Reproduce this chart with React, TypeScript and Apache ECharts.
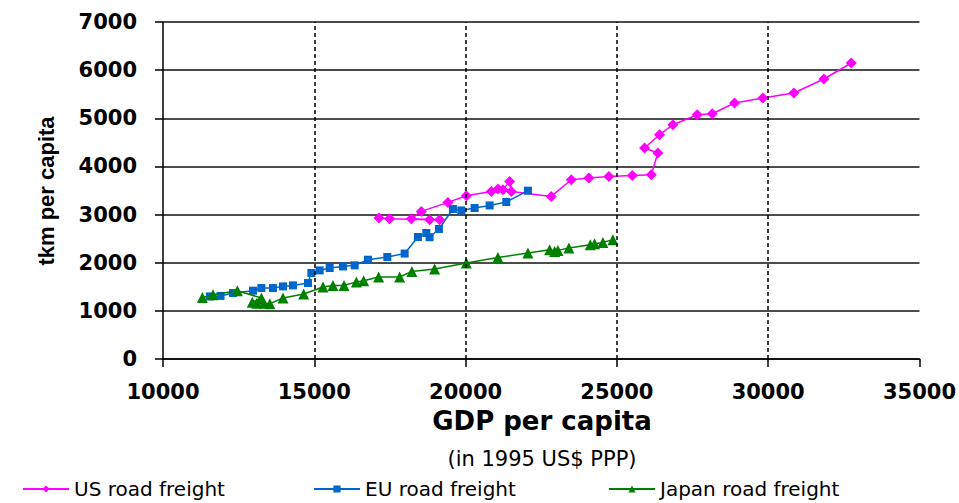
import React, { useEffect, useRef } from "react";
import * as echarts from "echarts";

// GDP per capita (1995 US$ PPP) vs road freight tkm per capita
const usGdp = [17137, 17490, 18811, 19141, 18207, 18537, 19417, 20024, 20850, 21069, 21234, 21455, 21511, 22832, 23493, 24075, 24736, 25509, 26137, 26355, 25915, 26411, 26851, 27657, 28152, 28889, 29824, 30849, 31840, 32745];
const usTkm = [2929, 2914, 2893, 2893, 2914, 3066, 3253, 3392, 3481, 3531, 3516, 3689, 3481, 3377, 3724, 3759, 3790, 3813, 3828, 4279, 4383, 4659, 4866, 5074, 5095, 5317, 5421, 5525, 5816, 6148];

const euGdp = [11550, 11900, 12313, 12974, 13251, 13634, 13965, 14295, 14791, 14903, 15177, 15508, 15947, 16334, 16773, 17414, 17986, 18425, 18702, 18811, 19119, 19582, 19859, 20299, 20795, 21346, 22060];
const euTkm = [1300, 1310, 1371, 1419, 1474, 1474, 1508, 1529, 1578, 1786, 1840, 1890, 1923, 1945, 2062, 2118, 2190, 2534, 2617, 2530, 2700, 3115, 3086, 3136, 3190, 3261, 3496];

const jpGdp = [11302, 11652, 12458, 13251, 12950, 13100, 13330, 13530, 13965, 14649, 15287, 15617, 15981, 16390, 16631, 17127, 17821, 18227, 18977, 20024, 21069, 22060, 22777, 22942, 23052, 23414, 24121, 24263, 24538, 24868];
const jpTkm = [1279, 1336, 1419, 1267, 1180, 1160, 1160, 1150, 1267, 1350, 1495, 1529, 1529, 1599, 1626, 1703, 1703, 1820, 1869, 1994, 2110, 2201, 2270, 2235, 2256, 2305, 2374, 2395, 2422, 2478];

const seriesNames = ["US road freight", "EU road freight", "Japan road freight"];
const verticalGridX = [15000, 20000, 25000, 30000];

const xMin = 10000, xMax = 35000, xStep = 5000;
const yMin = 0, yMax = 7000, yStep = 1000;

const xTitle = "GDP per capita";
const xSubtitle = "(in 1995 US$ PPP)";
const yTitle = "tkm per capita";

const zip = (a: number[], b: number[]) => a.map((v, i) => [v, b[i]]);

export default function App() {
  const ref = useRef<HTMLDivElement>(null);
  useEffect(() => {
    document.body.style.margin = "0";
    const chart = echarts.init(ref.current!, null, { renderer: "svg" });
    const tickFont = { fontFamily: "DejaVu Sans", fontWeight: "bold" as const, fontSize: 21, color: "#000" };
    const legendText = { fontFamily: "DejaVu Sans", fontSize: 20, color: "#000" };
    const mkLegend = (name: string, left: number) => ({
      data: [name],
      left,
      top: 474,
      itemWidth: 46,
      itemHeight: 9,
      itemGap: 0,
      textStyle: legendText,
      selectedMode: false,
    });
    chart.setOption({
      animation: false,
      backgroundColor: "#fff",
      grid: { left: 163, right: 36, top: 22, bottom: 144, containLabel: false },
      xAxis: {
        type: "value",
        min: xMin,
        max: xMax,
        interval: xStep,
        axisLine: { show: true, lineStyle: { color: "#000", width: 1.5 } },
        axisTick: { show: true, length: 8, lineStyle: { color: "#000", width: 1.5 } },
        axisLabel: { ...tickFont, margin: 22, formatter: (v: number) => String(v) },
        splitLine: { show: false },
      },
      yAxis: {
        type: "value",
        min: yMin,
        max: yMax,
        interval: yStep,
        axisLine: { show: true, lineStyle: { color: "#000", width: 1.5 } },
        axisTick: { show: true, length: 8, lineStyle: { color: "#000", width: 1.5 } },
        axisLabel: { ...tickFont, margin: 26, formatter: (v: number) => String(v) },
        splitLine: { show: true, lineStyle: { color: "#111", width: 1.5 } },
      },
      legend: [
        mkLegend(seriesNames[0], 17),
        mkLegend(seriesNames[1], 308),
        mkLegend(seriesNames[2], 603),
      ],
      series: [
        {
          type: "line",
          name: "grid-helper",
          data: [],
          z: 1,
          silent: true,
          markLine: {
            silent: true,
            symbol: ["none", "none"],
            label: { show: false },
            lineStyle: { color: "#000", width: 1.5, type: [4, 3] },
            data: verticalGridX.map((x) => ({ xAxis: x })),
          },
        },
        {
          type: "line",
          name: seriesNames[0],
          data: zip(usGdp, usTkm),
          z: 3,
          symbol: "diamond",
          symbolSize: 11,
          itemStyle: { color: "#FF00FF" },
          lineStyle: { color: "#FF00FF", width: 1.5 },
        },
        {
          type: "line",
          name: seriesNames[1],
          data: zip(euGdp, euTkm),
          z: 3,
          symbol: "rect",
          symbolSize: 8,
          itemStyle: { color: "#0066CC" },
          lineStyle: { color: "#0066CC", width: 1.5 },
        },
        {
          type: "line",
          name: seriesNames[2],
          data: zip(jpGdp, jpTkm),
          z: 4,
          symbol: "triangle",
          symbolSize: 11,
          itemStyle: { color: "#008000" },
          lineStyle: { color: "#008000", width: 1.5 },
        },
      ],
      graphic: [
        {
          type: "text",
          x: 46,
          y: 191,
          rotation: Math.PI / 2,
          style: {
            text: yTitle,
            fontFamily: "Liberation Sans",
            fontWeight: "bold",
            fontSize: 22,
            fill: "#000",
            align: "center",
            verticalAlign: "middle",
          },
        },
        {
          type: "text",
          x: 542,
          y: 421,
          style: {
            text: xTitle,
            fontFamily: "DejaVu Sans",
            fontWeight: "bold",
            fontSize: 26,
            fill: "#000",
            align: "center",
            verticalAlign: "middle",
          },
        },
        {
          type: "text",
          x: 542,
          y: 459,
          style: {
            text: xSubtitle,
            fontFamily: "DejaVu Sans",
            fontSize: 21,
            fill: "#000",
            align: "center",
            verticalAlign: "middle",
          },
        },
      ],
    });
    return () => chart.dispose();
  }, []);
  return <div ref={ref} style={{ width: 959, height: 503 }} />;
}
